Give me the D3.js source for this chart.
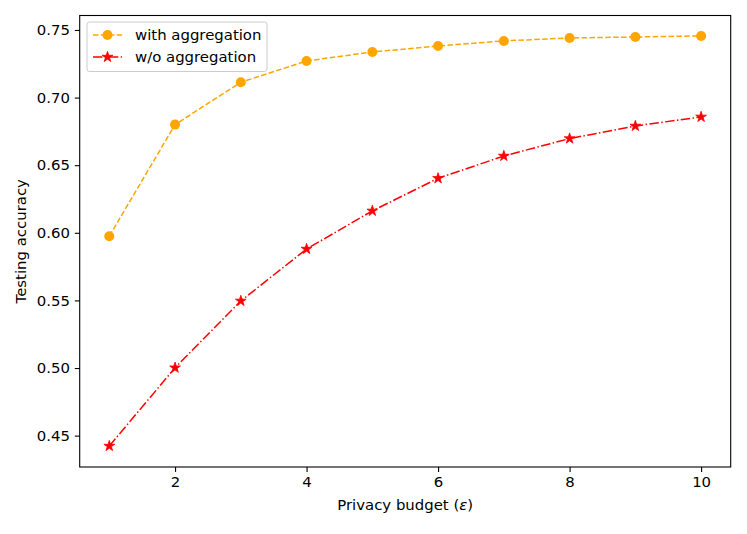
<!DOCTYPE html>
<html>
<head>
<meta charset="utf-8">
<script src="https://cdn.jsdelivr.net/npm/d3@7"></script>
<style>
  body { margin: 0; background: #fff; }
  svg text { font-family: "DejaVu Sans", sans-serif; }
</style>
</head>
<body>
<div id="chart"></div>
<script>
// data
var budgets = [1, 2, 3, 4, 5, 6, 7, 8, 9, 10];
var withAgg = [0.5975, 0.680, 0.7113, 0.7271, 0.7337, 0.7382, 0.7419, 0.7441, 0.7448, 0.7456];
var withoutAgg = [0.4423, 0.5002, 0.5496, 0.588, 0.6162, 0.6403, 0.6568, 0.6697, 0.679, 0.6857];
var xTicks = [2, 4, 6, 8, 10];
var yTicks = [0.45, 0.50, 0.55, 0.60, 0.65, 0.70, 0.75];
var seriesNames = ['with aggregation', 'w/o aggregation'];

var width = 747, height = 534;
var padding = { top: 15.5, right: 16.3, bottom: 67, left: 79.7 };
var fontSize = 14.9;

var svg = d3.select('#chart').append('svg')
  .attr('width', width)
  .attr('height', height);

var xScale = d3.scaleLinear()
  .domain([0.55, 10.45])
  .range([padding.left, width - padding.right]);
var yScale = d3.scaleLinear()
  .domain([0.4268, 0.7607])
  .range([height - padding.bottom, padding.top]);

// axes
var xAxis = d3.axisBottom(xScale).tickValues(xTicks).tickFormat(d3.format('d')).tickSize(4.9).tickPadding(4.5);
var yAxis = d3.axisLeft(yScale).tickValues(yTicks).tickFormat(d3.format('.2f')).tickSize(4.9).tickPadding(4.9);

var gx = svg.append('g')
  .attr('transform', 'translate(0,' + (height - padding.bottom) + ')')
  .call(xAxis);
var gy = svg.append('g')
  .attr('transform', 'translate(' + padding.left + ',0)')
  .call(yAxis);
[gx, gy].forEach(function(g){
  g.select('.domain').remove();
  g.selectAll('line').attr('stroke', '#000').attr('stroke-width', 1.1);
  g.selectAll('text').attr('fill', '#000').style('font-size', fontSize + 'px').style('font-family', '"DejaVu Sans", sans-serif');
});

// frame
svg.append('rect')
  .attr('x', padding.left)
  .attr('y', padding.top)
  .attr('width', width - padding.left - padding.right)
  .attr('height', height - padding.top - padding.bottom)
  .attr('fill', 'none')
  .attr('stroke', '#000')
  .attr('stroke-width', 1.1);

// labels
var xLabel = svg.append('text')
  .attr('x', (padding.left + width - padding.right) / 2)
  .attr('y', 509.5)
  .attr('text-anchor', 'middle')
  .style('font-size', fontSize + 'px');
xLabel.append('tspan').text('Privacy budget (');
xLabel.append('tspan').style('font-style', 'italic').text('\u03b5');
xLabel.append('tspan').text(')');
svg.append('text')
  .attr('transform', 'translate(25.5,' + ((padding.top + height - padding.bottom) / 2) + ') rotate(-90)')
  .attr('text-anchor', 'middle')
  .style('font-size', fontSize + 'px')
  .text('Testing accuracy');

var line = d3.line()
  .x(function(d){ return xScale(d.x); })
  .y(function(d){ return yScale(d.y); });

var set1 = budgets.map(function(b, i){ return { x: b, y: withAgg[i] }; });
var set2 = budgets.map(function(b, i){ return { x: b, y: withoutAgg[i] }; });

var orange = '#ffa500', red = '#ff0000';
var starPath = d3.symbol().type(d3.symbolStar).size(36)();
var circleR = 5;

svg.append('path')
  .attr('d', line(set1))
  .attr('fill', 'none')
  .attr('stroke', orange)
  .attr('stroke-width', 1.5)
  .attr('stroke-dasharray', '5.5,2.4');
svg.append('g').selectAll('circle')
  .data(set1).enter().append('circle')
  .attr('cx', function(d){ return xScale(d.x); })
  .attr('cy', function(d){ return yScale(d.y); })
  .attr('r', circleR)
  .attr('fill', orange);

svg.append('path')
  .attr('d', line(set2))
  .attr('fill', 'none')
  .attr('stroke', red)
  .attr('stroke-width', 1.5)
  .attr('stroke-dasharray', '9.5,2.4,1.5,2.4');
svg.append('g').selectAll('path')
  .data(set2).enter().append('path')
  .attr('d', starPath)
  .attr('transform', function(d){ return 'translate(' + xScale(d.x) + ',' + yScale(d.y) + ')'; })
  .attr('fill', red)
  .attr('stroke', red)
  .attr('stroke-width', 0.8);

// legend
var legend = svg.append('g').attr('transform', 'translate(87,22)');
legend.append('rect')
  .attr('width', 180)
  .attr('height', 49.5)
  .attr('rx', 2.5)
  .attr('fill', '#fff')
  .attr('fill-opacity', 0.8)
  .attr('stroke', '#ccc')
  .attr('stroke-width', 1);
seriesNames.forEach(function(name, i){
  var yy = 13 + i * 22;
  legend.append('line')
    .attr('x1', 6).attr('x2', 35)
    .attr('y1', yy).attr('y2', yy)
    .attr('stroke', i === 0 ? orange : red)
    .attr('stroke-width', 1.5)
    .attr('stroke-dasharray', i === 0 ? '5.5,2.4' : '9.5,2.4,1.5,2.4');
  if (i === 0) {
    legend.append('circle').attr('cx', 20.5).attr('cy', yy).attr('r', circleR).attr('fill', orange);
  } else {
    legend.append('path').attr('d', starPath)
      .attr('transform', 'translate(20.5,' + yy + ')')
      .attr('fill', red).attr('stroke', red).attr('stroke-width', 0.8);
  }
  legend.append('text')
    .attr('x', 48)
    .attr('y', yy)
    .attr('dy', '0.35em')
    .style('font-size', fontSize + 'px')
    .text(name);
});
</script>
</body>
</html>
